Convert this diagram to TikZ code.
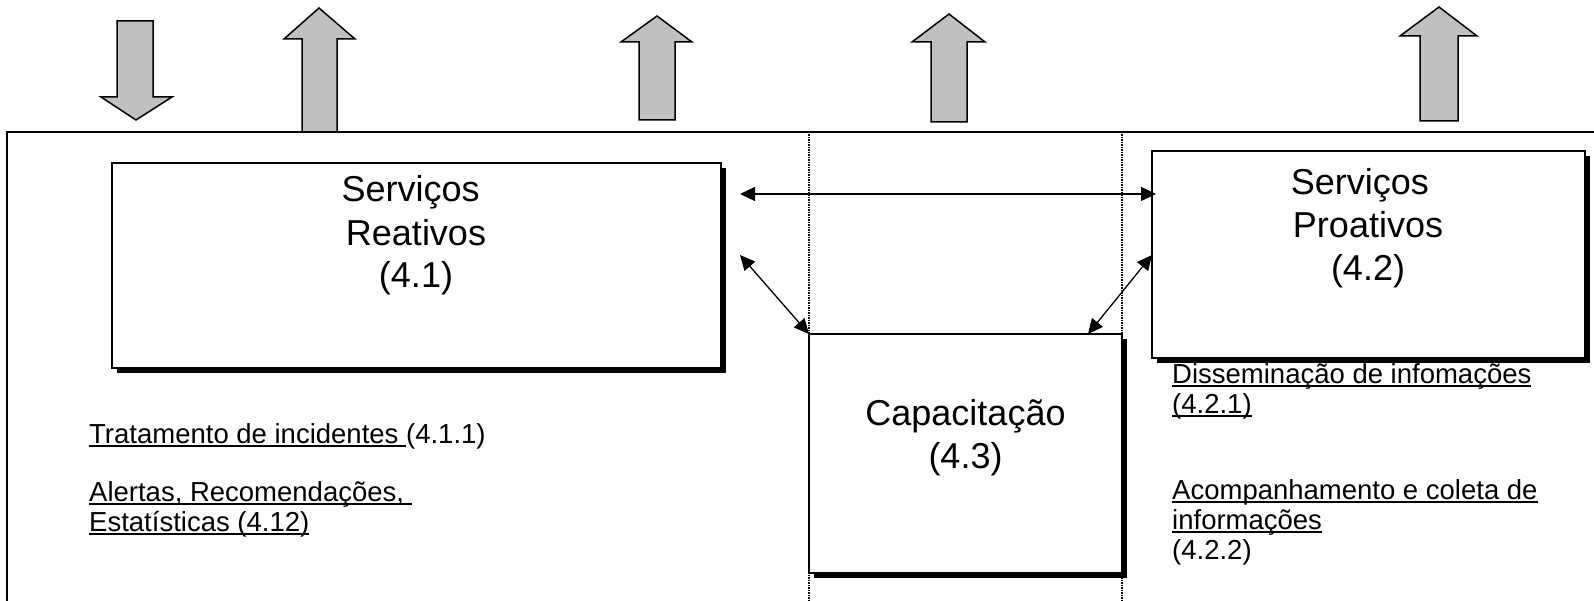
\documentclass[tikz,border=0pt]{standalone}
\usepackage{fontspec}
\setmainfont{Liberation Sans}
\usetikzlibrary{arrows.meta,shadows,calc}
\definecolor{arrowgray}{RGB}{192,192,192}
\newsavebox{\myulbox}
\newcommand{\myul}[1]{\sbox{\myulbox}{#1}\rlap{\rule[-3.6pt]{\wd\myulbox}{1.4pt}}\usebox{\myulbox}}
\begin{document}
\begin{tikzpicture}[x=1pt,y=-1pt,
  garrow/.style={draw=black,fill=arrowgray,line width=1.5pt,line join=miter},
  frameline/.style={draw=black,line width=1.5pt},
  sepline/.style={draw=black,line width=1.3pt,dash pattern=on 1.5pt off 1pt},
  box/.style={draw=black,fill=white,line width=1.5pt,inner sep=0pt,outer sep=0pt,anchor=north west,
    drop shadow={shadow xshift=5pt,shadow yshift=-5pt,fill=black,opacity=1}},
  title/.style={font=\fontsize{36}{43}\selectfont,align=center,anchor=base,inner sep=0pt},
  item/.style={font=\fontsize{27.5}{30}\selectfont,align=left,anchor=base west,inner sep=0pt},
  dbl/.style={{Triangle[length=15pt,width=14pt]}-{Triangle[length=15pt,width=14pt]},line width=1.3pt}]
\useasboundingbox (0,0) rectangle (1594,601);
% gray arrows on top
\draw[garrow] (117,21) -- (153,21) -- (153,97) -- (172,97) -- (136,120) -- (101,97) -- (117,97) -- cycle;
\draw[garrow] (302,132) -- (302,39) -- (284,39) -- (319,8) -- (355,39) -- (337,39) -- (337,132) -- cycle;
\draw[garrow] (639,120) -- (639,42) -- (621,42) -- (657,16) -- (692,42) -- (675,42) -- (675,120) -- cycle;
\draw[garrow] (931,122) -- (931,42) -- (912,42) -- (949,14) -- (985,42) -- (967,42) -- (967,122) -- cycle;
\draw[garrow] (1420,121) -- (1420,36) -- (1400,36) -- (1439,7) -- (1477,36) -- (1458,36) -- (1458,121) -- cycle;
% outer frame
\draw[frameline] (1594,132) -- (7,132) -- (7,601);
% dotted separators
\draw[sepline] (809,132) -- (809,601);
\draw[sepline] (1122,132) -- (1122,601);
% text partly hidden under the Proativos box
\node[item] (dis) at (1172,413) {\myul{Disseminação de infomações}\\\myul{(4.2.1)}};
% boxes
\node[box,minimum width=609pt,minimum height=205pt] (rr) at (112,163) {};
\node[box,minimum width=433pt,minimum height=207pt] (pr) at (1152,151) {};
\node[box,minimum width=313pt,minimum height=239pt] (cap) at (809,334) {};
% titles (anchor at baseline of last line)
\node[title] (rrt) at (416,288) {Serviços\hspace*{.3em}\\Reativos\\(4.1)};
\node[title] (prt) at (1368,281) {Serviços\hspace*{.45em}\\Proativos\\(4.2)};
\node[title] (capt) at (965.5,468) {Capacitação\\(4.3)};
% item texts
\node[item] (trat) at (89,443) {\myul{Tratamento de incidentes\ }(4.1.1)};
\node[item] (alert) at (89,531) {\myul{Alertas, Recomendações,\ }\\\myul{Estatísticas (4.12)}};
\node[item] (acomp) at (1172,559) {\myul{Acompanhamento e coleta de}\\\myul{informações}\\(4.2.2)};
% connectors
\coordinate (h1) at (740,194);
\coordinate (d1) at (740,255);
\draw[dbl] (h1) -- ([xshift=4pt]h1 -| pr.west);
\draw[dbl] (d1) -- (cap.north west);
\draw[dbl] (pr.west |- d1) -- ([xshift=-34pt]cap.north east);
\end{tikzpicture}
\end{document}
